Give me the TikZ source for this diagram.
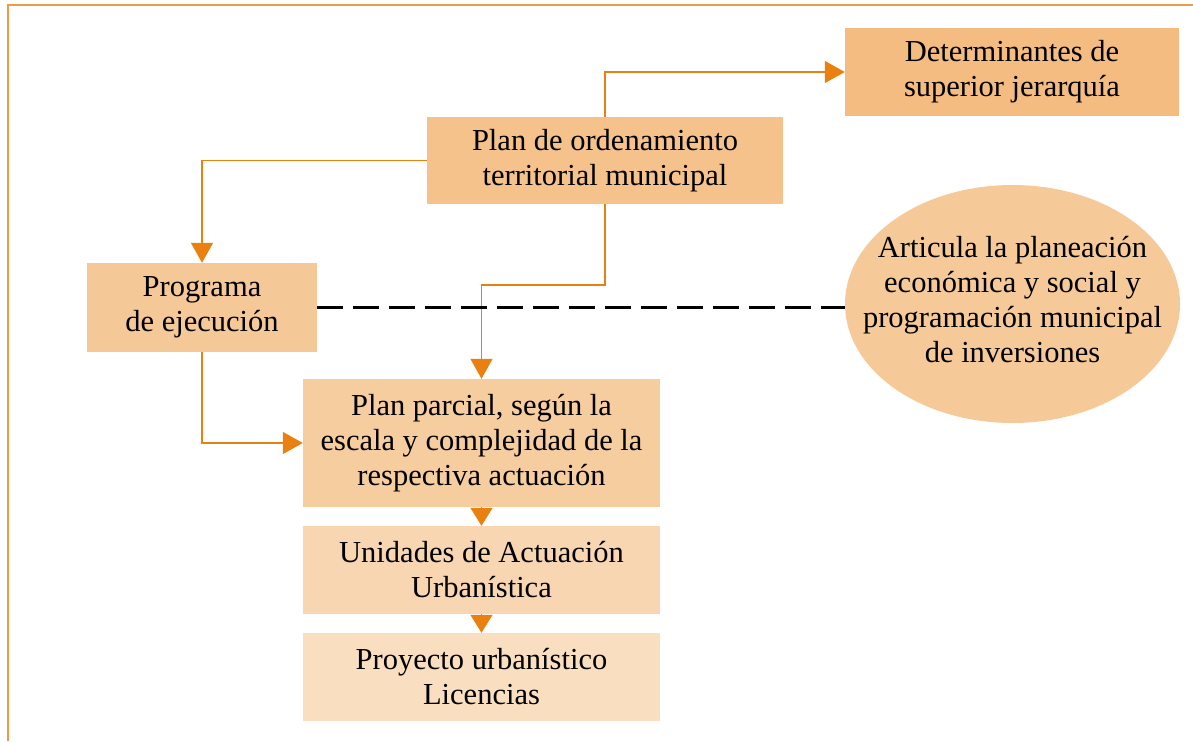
\documentclass[tikz,border=0pt]{standalone}
\usepackage{fontspec}
\setmainfont{Liberation Serif}
\usetikzlibrary{arrows.meta}
\definecolor{arrorange}{HTML}{E9800F}
\definecolor{frameorange}{HTML}{EE9A48}
\definecolor{cdet}{HTML}{F4BC80}
\definecolor{cplan}{HTML}{F5C28C}
\definecolor{cprog}{HTML}{F5C898}
\definecolor{cell}{HTML}{F5CA98}
\definecolor{cpar}{HTML}{F6CD9F}
\definecolor{cuni}{HTML}{F8D6B2}
\definecolor{cpro}{HTML}{FADEC0}
\tikzset{
  boxnode/.style={rectangle, inner sep=0pt, align=center,
    font=\fontsize{30.5}{35}\selectfont},
  arr/.style={draw=arrorange, line width=1.4pt,
    -{Triangle[width=22pt,length=20pt,fill=arrorange]}},
  shortarr/.style={draw=arrorange, line width=1.4pt,
    -{Triangle[width=22pt,length=18pt,fill=arrorange]}},
  dashline/.style={draw=black, line width=2.5pt, dash pattern=on 26pt off 10pt},
}
\begin{document}
\begin{tikzpicture}[x=1pt,y=-1pt]
\useasboundingbox (0,0) rectangle (1193,741);
\draw[frameorange, line width=1.5pt] (8,741) -- (8,5) -- (1193,5);

\node[boxnode, fill=cdet, minimum width=334pt, minimum height=88pt] (det) at (1012,72)
  {Determinantes de\\superior jerarquía};
\node[boxnode, fill=cplan, minimum width=356pt, minimum height=87pt] (plan) at (605,160.5)
  {Plan de ordenamiento\\territorial municipal};
\node[boxnode, fill=cprog, minimum width=230pt, minimum height=89pt] (prog) at (202,307.5)
  {Programa\\de ejecución};
\fill[cell] (1012.5,304) ellipse [x radius=167.5pt, y radius=119pt];
\node[boxnode] (ell) at (1012.5,300)
  {Articula la planeación\\económica y social y\\programación municipal\\de inversiones};
\coordinate (ellw) at (845,307.5);
\node[boxnode, fill=cpar, minimum width=357pt, minimum height=128pt] (par) at (481.5,443)
  {Plan parcial, según la\\escala y complejidad de la\\respectiva actuación};
\node[boxnode, fill=cuni, minimum width=357pt, minimum height=88pt] (uni) at (481.5,570)
  {Unidades de Actuación\\Urbanística};
\node[boxnode, fill=cpro, minimum width=357pt, minimum height=88pt] (pro) at (481.5,677)
  {Proyecto urbanístico\\Licencias};

\coordinate (bend) at (605,285);
\draw[arr] (plan.north) |- (det.west);
\draw[arr] (plan.west) -| (prog.north);
\draw[arr] (plan.south) -- (bend) -| (par.north);
\draw[arr] (prog.south) |- (par.west);
\draw[shortarr] (par.south) -- (uni.north);
\draw[shortarr] (uni.south) -- (pro.north);
\draw[dashline] (prog.east) -- (ellw);
\end{tikzpicture}
\end{document}
